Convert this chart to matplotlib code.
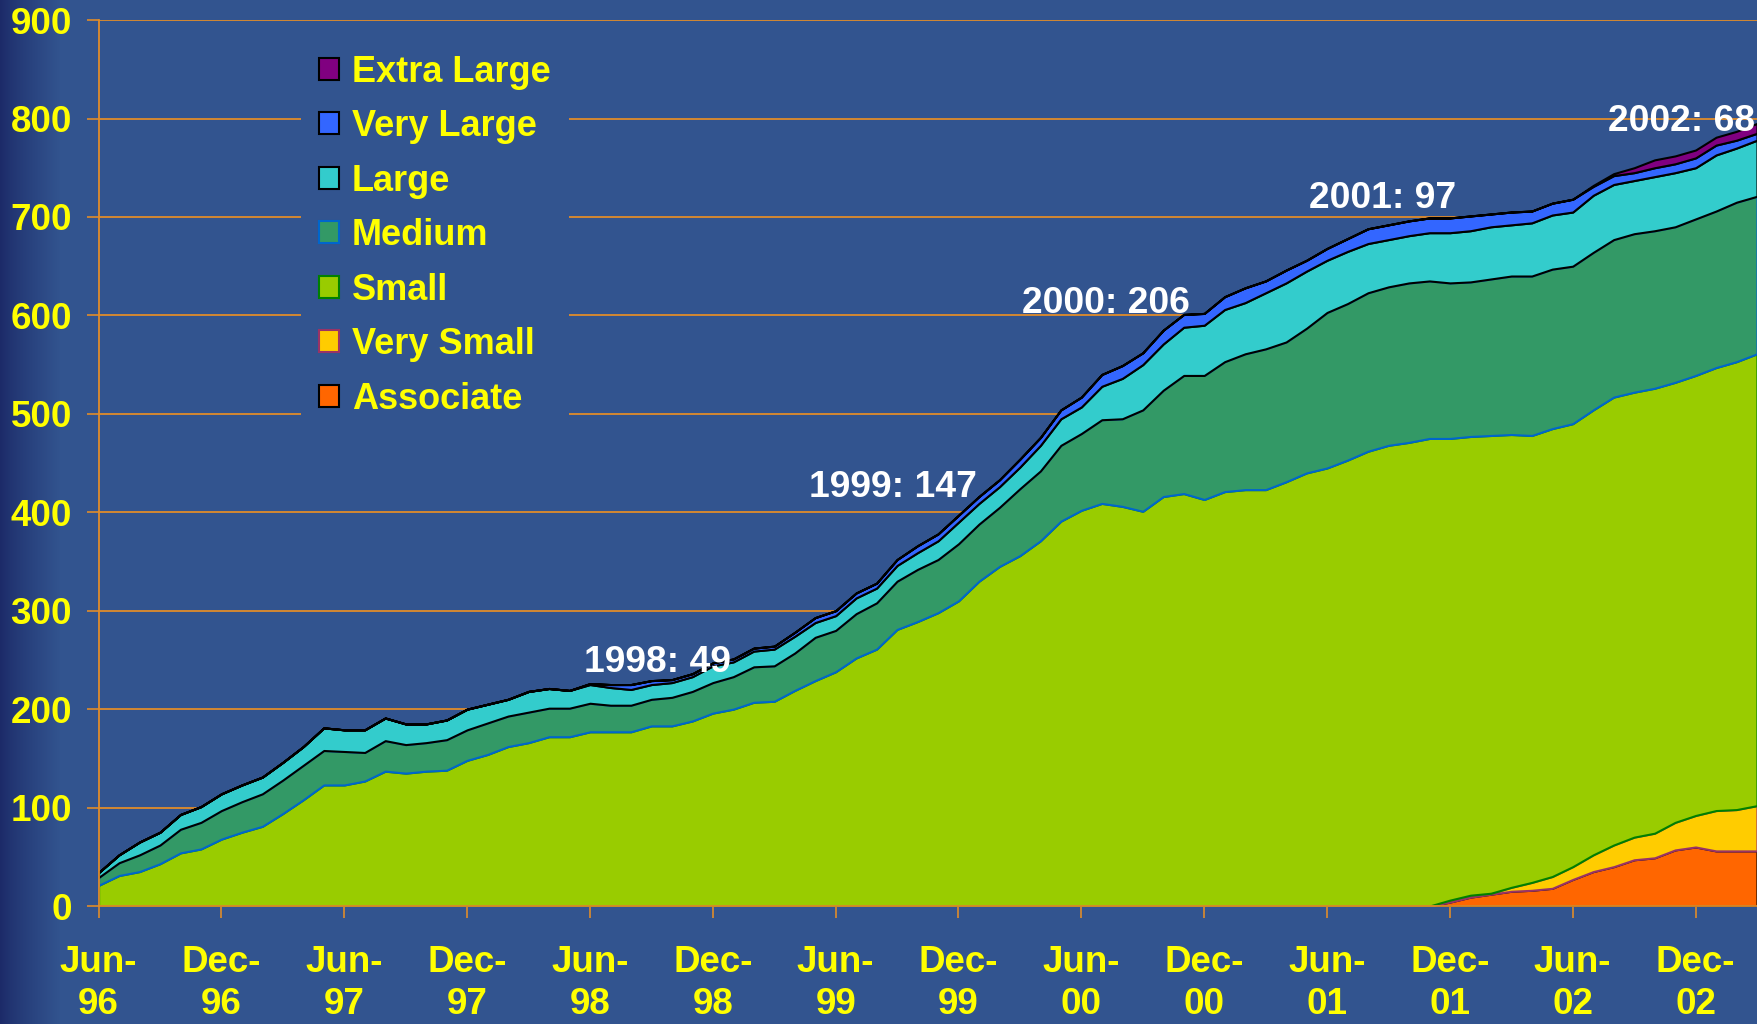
import numpy as np
import matplotlib.pyplot as plt
from matplotlib.transforms import blended_transform_factory

plt.rcParams['font.family'] = ['Liberation Sans', 'DejaVu Sans']
plt.rcParams['font.weight'] = 'bold'

# monthly membership, Jun-96 .. Mar-03
months = np.arange(82)
tick_pos = np.arange(0, 82, 6)
tick_month = ['Jun-', 'Dec-'] * 7
tick_year = ['96', '96', '97', '97', '98', '98', '99', '99', '00', '00', '01', '01', '02', '02']

associate = [0] * 66 + [4, 9, 12, 15, 16, 18, 27, 35, 40, 47, 49, 57, 60, 56, 56, 56]
very_small = [0] * 66 + [2, 2, 1, 4, 8, 12, 13, 17, 22, 23, 25, 28, 32, 41, 42, 46]
small = [21, 31, 35, 43, 54, 58, 68, 75, 81, 94,
         108, 123, 123, 127, 137, 135, 137, 138, 148, 154,
         162, 166, 172, 172, 177, 177, 177, 183, 183, 188,
         196, 200, 207, 208, 219, 229, 238, 252, 261, 281,
         289, 298, 310, 330, 345, 356, 371, 391, 402, 409,
         406, 401, 416, 419, 413, 421, 423, 423, 431, 440,
         445, 453, 462, 468, 471, 475,
         469, 466, 465, 460, 454, 455, 450, 452, 455, 452, 452, 447, 447, 450, 455, 459]
medium = [8, 13, 17, 19, 24, 27, 29, 31, 33, 34,
          35, 35, 34, 29, 31, 29, 29, 31, 31, 32,
          31, 31, 29, 29, 29, 27, 27, 27, 29, 30,
          31, 33, 36, 36, 38, 44, 42, 45, 47, 49,
          53, 54, 58, 58, 60, 68, 71, 77, 78, 85,
          89, 103, 108, 120, 126, 132, 138, 143, 142, 147,
          158, 159, 161, 161, 162, 160, 158, 157, 159, 161,
          162, 162, 160, 160, 160, 161, 160, 158, 159, 159,
          162, 160]
large = [5, 8, 13, 13, 15, 16, 17, 17, 17, 18,
         19, 23, 22, 23, 23, 21, 19, 20, 21, 19,
         17, 21, 20, 18, 19, 18, 16, 15, 15, 15,
         17, 15, 16, 17, 17, 15, 15, 16, 15, 16,
         17, 19, 22, 21, 21, 22, 26, 27, 27, 34,
         41, 46, 47, 49, 51, 53, 52, 57, 60, 58,
         53, 53, 50, 48, 48, 49, 51, 52, 53, 52,
         54, 55, 55, 58, 56, 54, 55, 55, 52, 57,
         55, 57]
very_large = [0] * 24 + [1, 3, 5, 4, 3, 3, 3, 3, 3, 3,
                         4, 5, 5, 5, 5, 6, 7, 7, 7, 7,
                         7, 8, 8, 9, 10, 12, 13, 12, 14, 13,
                         12, 13, 15, 12, 13, 11, 12, 13, 15, 15,
                         15, 15, 15, 15, 13, 13, 12, 12, 13, 9,
                         9, 8, 9, 9, 10, 10, 8, 7]
extra_large = [0] * 73 + [1, 2, 5, 8, 8, 8, 8, 9, 10]

notes = ['1998: 49', '1999: 147', '2000: 206', '2001: 97', '2002: 68']
note_x = [23.7, 34.7, 45.1, 59.1, 73.7]
note_y = [247, 425, 612, 719, 797]

BG = '#32548F'
GRID = '#E08C2A'
YELLOW = '#FFFF00'

fig = plt.figure(figsize=(17.57, 10.24), dpi=100)

# background with dark left edge
bgax = fig.add_axes([0, 0, 1, 1], zorder=-5)
px = np.arange(1757)
w = np.clip(px / 60.0, 0, 1) ** 0.8
dark = np.array([28, 42, 104]) / 255
base_c = np.array([50, 84, 143]) / 255
row = dark[None, :] * (1 - w[:, None]) + base_c[None, :] * w[:, None]
bgax.imshow(row[None, :, :], aspect='auto', extent=[0, 1, 0, 1])
bgax.axis('off')

ax = fig.add_axes([0.0561, 0.1152, 0.9439, 0.8652])
ax.patch.set_alpha(0)

series = [('Associate', associate, '#FF6600', 'black'),
          ('Very Small', very_small, '#FFCC00', '#993366'),
          ('Small', small, '#99CC00', '#008000'),
          ('Medium', medium, '#339966', '#0066CC'),
          ('Large', large, '#33CCCC', 'black'),
          ('Very Large', very_large, '#3366FF', 'black'),
          ('Extra Large', extra_large, '#800080', 'black')]

bottom = np.zeros(len(months))
handles = []
for i, (name, vals, fc, ec) in enumerate(series):
    top = bottom + np.array(vals)
    h = ax.fill_between(months, bottom, top, facecolor=fc, edgecolor=ec,
                        linewidth=1.5, zorder=2 + i * 0.1, label=name)
    handles.append(h)
    bottom = top

ax.set_xlim(0, 81)
ax.set_ylim(0, 900)
ax.set_yticks(np.arange(0, 901, 100))
ax.set_xticks(tick_pos)
ax.set_xticklabels([])
ax.set_axisbelow(True)
ax.yaxis.grid(True, color=GRID, linewidth=1.3)

for s in ['top', 'right']:
    ax.spines[s].set_visible(False)
for s in ['left', 'bottom']:
    ax.spines[s].set_color(GRID)
    ax.spines[s].set_linewidth(1.3)
    ax.spines[s].set_zorder(10)

ax.tick_params(axis='both', colors=GRID, length=8.6, width=1.2,
               labelcolor=YELLOW, labelsize=26.5)
ax.tick_params(axis='y', pad=10.5)

# two-line month labels under the ticks
trans = blended_transform_factory(ax.transData, fig.transFigure)
for xp, m, yr in zip(tick_pos, tick_month, tick_year):
    ax.text(xp, 1 - 971.5 / 1024, m, transform=trans, color=YELLOW,
            fontsize=26.5, fontweight='bold', ha='center', va='baseline',
            clip_on=False)
    ax.text(xp, 1 - 1014.5 / 1024, yr, transform=trans, color=YELLOW,
            fontsize=26.5, fontweight='bold', ha='center', va='baseline',
            clip_on=False)

for t, x, y in zip(notes, note_x, note_y):
    ax.text(x, y, t, color='white', fontsize=26.8, fontweight='bold',
            ha='left', va='center', zorder=20)

leg = ax.legend(handles[::-1], [s[0] for s in series][::-1],
                loc='upper left', bbox_to_anchor=(301 / 1757, 1 - 36.5 / 1024),
                bbox_transform=fig.transFigure, borderaxespad=0,
                frameon=True, facecolor=BG, edgecolor='none', framealpha=1,
                fancybox=False, fontsize=26, labelcolor=YELLOW,
                handlelength=0.55, handleheight=0.55, handletextpad=0.36,
                labelspacing=0.54, borderpad=0.5)
leg.set_zorder(15)

fig.savefig('out.png', dpi=100, facecolor=BG)
